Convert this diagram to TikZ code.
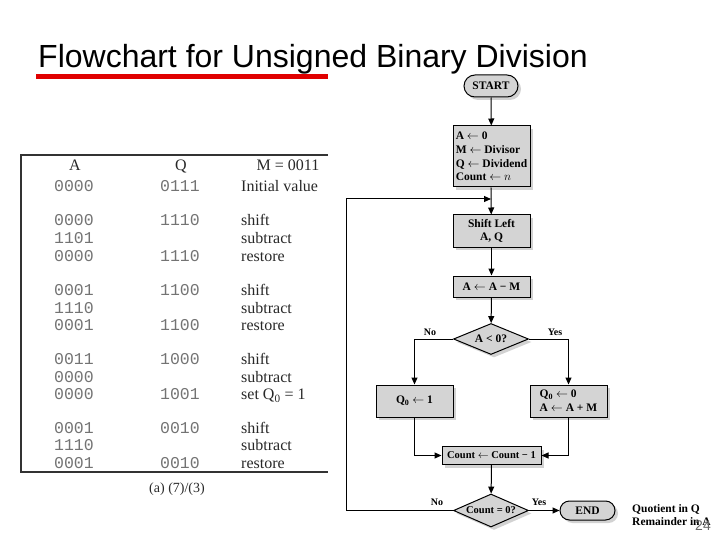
\documentclass[tikz,border=0pt]{standalone}
\usepackage{fontspec}
\setmainfont{Liberation Serif}
\setsansfont{Liberation Sans}
\setmonofont{Liberation Mono}
\usepackage{xcolor}
\usepackage{tikz}
\usetikzlibrary{shapes.geometric, shapes.misc, arrows.meta, shadows}
\definecolor{dvFill}{RGB}{212,212,212}
\definecolor{dvRed}{RGB}{224,0,0}
\definecolor{dvInk}{RGB}{ 40, 40, 40}

\begin{document}
\begin{tikzpicture}[x=1pt, y=-1pt,
    fcfont/.style={font=\fontsize{11.5}{13.7}\selectfont\bfseries},
    shade/.style={drop shadow={shadow xshift=3pt, shadow yshift=-3pt, fill=black!35}},
    fbox/.style={draw, line width=1pt, fill=dvFill, shade, fcfont, inner sep=2pt,
                 minimum width=77pt},
    fterm/.style={fbox, rounded rectangle, minimum height=20pt},
    fdec/.style={fbox, diamond, aspect=2.4, inner sep=0pt, minimum width=75pt,
                 minimum height=31pt},
    flab/.style={font=\fontsize{10}{11}\selectfont\bfseries},
    arr/.style={line width=1pt, -{Triangle[length=7pt, width=6pt]}},
    line/.style={line width=1pt},
    tnum/.style={font=\fontsize{16.5}{16.5}\selectfont\ttfamily, text=black!55, inner sep=0pt, anchor=base},
    ttxt/.style={font=\fontsize{16}{16}\selectfont, text=dvInk, inner sep=0pt, anchor=base}
  ]
  \useasboundingbox (0,0) rectangle (720,540);

  % title
  \node[anchor=base west, inner sep=0pt, font=\fontsize{32}{32}\selectfont\sffamily]
    (title) at (38,68) {Flowchart for Unsigned Binary Division};
  \draw[dvRed, line width=5pt] (36,77) -- (328,77);

  % table (a)
  \draw[line width=1.5pt, black!80] (328,155) -- (21,155) -- (21,472) -- (328,472);
  \node[ttxt] (hA) at (75,171) {A};
  \node[ttxt] (hQ) at (181,171) {Q};
  \node[ttxt] (hM) at (288,171) {M = 0011};
  \foreach \i/\y/\a/\q/\s in {1/186/0000/0111/Initial value,
                             2/220/0000/1110/shift, 3/238/1101//subtract, 4/256/0000/1110/restore,
                             5/290/0001/1100/shift, 6/308/1110//subtract, 7/325/0001/1100/restore,
                             8/359/0011/1000/shift, 9/377/0000//subtract, 10/394/0000/1001/{set Q\textsubscript{0} = 1},
                             11/428/0001/0010/shift, 12/445/1110//subtract, 13/463/0001/0010/restore} {
    \node[tnum] (a\i) at (74,\y+5.5) {\a};
    \node[tnum] (q\i) at (180,\y+5.5) {\q};
    \node[ttxt, anchor=base west] (s\i) at (241,\y+5.5) {\s};
  }
  \node[ttxt, font=\fontsize{14}{14}\selectfont] (cap) at (177,492) {(a) (7)/(3)};

  % flowchart
  \node[fterm, minimum width=58pt, minimum height=22pt] (start) at (491,86) {START};
  \node[fbox, minimum height=61pt, align=left] (init) at (491.5,156.5)
    {A $\leftarrow$ 0\\M $\leftarrow$ Divisor\\Q $\leftarrow$ Dividend\\Count $\leftarrow$ $n$};
  \node[fbox, minimum height=32pt, align=center] (shl) at (491.5,231) {Shift Left\\A, Q};
  \node[fbox, minimum height=21pt] (sub) at (491.5,286.5) {A $\leftarrow$ A − M};
  \node[fdec] (dec1) at (491,339) {A < 0?};
  \node[fbox, minimum height=32pt] (q1) at (414.5,401) {Q\textsubscript{0} $\leftarrow$ 1};
  \node[fbox, minimum height=32pt, align=left] (q0) at (568.5,401)
    {Q\textsubscript{0} $\leftarrow$ 0\\A $\leftarrow$ A + M};
  \node[fbox, minimum width=99pt, minimum height=18pt, font=\fontsize{10.5}{12}\selectfont\bfseries]
    (cnt) at (491.5,455.5) {Count $\leftarrow$ Count − 1};
  \node[fdec, minimum height=33pt, font=\fontsize{10.5}{12}\selectfont\bfseries]
    (dec2) at (491,510.5) {Count = 0?};
  \node[fterm, minimum width=59pt, minimum height=19pt] (fin) at (587.5,510.5) {END};
  \node[fcfont, align=left, anchor=west, inner sep=0pt] (res) at (632,515)
    {Quotient in Q\\Remainder in A};

  \coordinate (join) at (491,199);
  \coordinate (back) at (346,199);

  \draw[arr] (start) -- (init);
  \draw[line] (init) -- (join);
  \draw[arr] (join) -- (shl);
  \draw[arr] (shl) -- (sub);
  \draw[arr] (sub) -- (dec1);
  \draw[arr] (dec1.west) -| (q1.north);
  \draw[arr] (dec1.east) -| (q0.north);
  \draw[arr] (q1.south) |- (cnt.west);
  \draw[arr] (q0.south) |- (cnt.east);
  \draw[arr] (cnt) -- (dec2);
  \draw[arr] (dec2.west) -| (back) -- (join);
  \draw[arr] (dec2.east) -- (fin);

  \node[flab] (no1) at (430,332) {No};
  \node[flab] (yes1) at (555,332) {Yes};
  \node[flab] (no2) at (437,502) {No};
  \node[flab] (yes2) at (539,502) {Yes};

  % page number
  \node[font=\fontsize{14}{14}\selectfont\sffamily, text=black!60] (page) at (703,526) {24};
\end{tikzpicture}
\end{document}
